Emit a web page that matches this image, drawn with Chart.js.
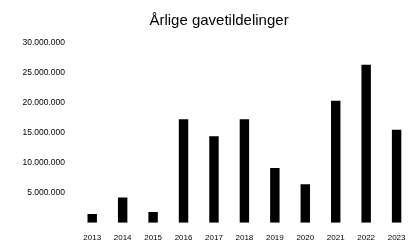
<!DOCTYPE html>
<html>
<head>
<meta charset="utf-8">
<script src="https://cdn.jsdelivr.net/npm/chart.js@4"></script>
<style>
html,body{margin:0;padding:0;background:#fff;}
#wrap{width:416px;height:250px;}
</style>
</head>
<body>
<div id="wrap"><canvas id="c" width="416" height="250"></canvas></div>
<script>
const chartTitle = "Årlige gavetildelinger";
const years = ["2013","2014","2015","2016","2017","2018","2019","2020","2021","2022","2023"];
const amounts = [1450000, 4200000, 1800000, 17200000, 14400000, 17200000, 9100000, 6400000, 20300000, 26300000, 15450000];
const yTickValues = [5000000, 10000000, 15000000, 20000000, 25000000, 30000000];

function fmt(v){ return String(v).replace(/\B(?=(\d{3})+(?!\d))/g, "."); }

new Chart(document.getElementById("c"), {
  type: "bar",
  data: {
    labels: years,
    datasets: [{
      data: amounts,
      backgroundColor: "#000",
      borderWidth: 0,
      categoryPercentage: 1,
      barPercentage: 0.31
    }]
  },
  options: {
    responsive: false,
    animation: false,
    devicePixelRatio: 1,
    layout: { padding: { left: 22, right: 0, top: 0, bottom: 0 } },
    plugins: {
      legend: { display: false },
      tooltip: { enabled: false },
      title: {
        display: true,
        text: chartTitle,
        color: "#000",
        font: { family: "Liberation Sans, Arial, sans-serif", size: 15, weight: "normal" },
        padding: { top: 11.5, bottom: 12.9 }
      }
    },
    scales: {
      x: {
        afterFit: s => { s.height = 27.3; },
        grid: { display: false, drawTicks: false },
        border: { display: false },
        ticks: { color: "#000", maxRotation: 0, autoSkip: false, padding: 10.5,
                 font: { family: "Liberation Sans, Arial, sans-serif", size: 8 } }
      },
      y: {
        min: 0, max: 30000000,
        afterFit: s => { s.width = 55; },
        afterBuildTicks: s => { s.ticks = [0].concat(yTickValues).map(v => ({ value: v })); },
        grid: { display: false, drawTicks: false },
        border: { display: false },
        ticks: { color: "#000", padding: 12,
                 font: { family: "Liberation Sans, Arial, sans-serif", size: 8.5 },
                 callback: v => v === 0 ? "" : fmt(v) }
      }
    }
  }
});
</script>
</body>
</html>
